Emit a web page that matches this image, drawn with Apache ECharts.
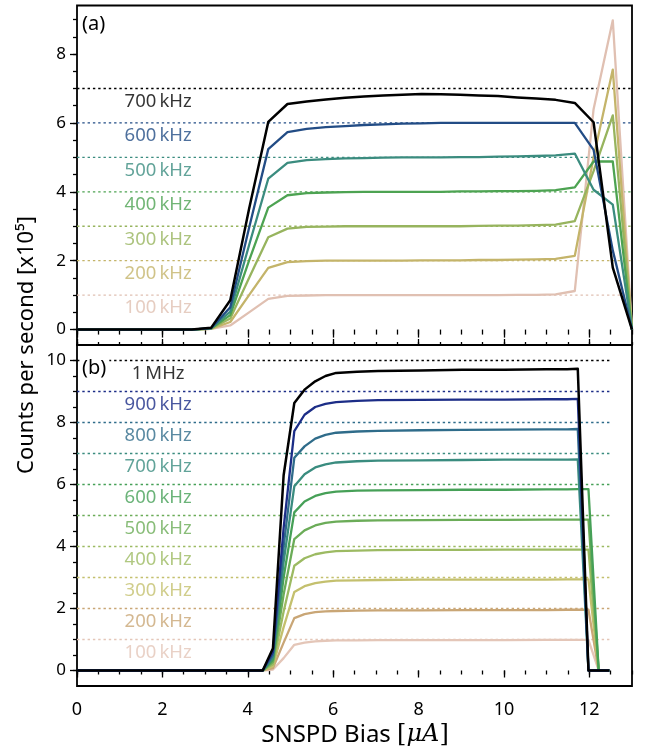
<!DOCTYPE html>
<html>
<head>
<meta charset="utf-8">
<script src="https://cdn.jsdelivr.net/npm/echarts@6/dist/echarts.min.js"></script>
<style>
html,body{margin:0;padding:0;background:#fff;}
#chart{width:646px;height:749px;}
</style>
</head>
<body>
<div id="chart"></div>
<script>
// ---------- DATA ----------
// Panel (a): bias points [uA]
const topX = [0, 2.69, 3.14, 3.59, 4.03, 4.48, 4.93, 5.38, 5.83, 6.28, 6.72, 7.17, 7.62, 8.07, 8.52, 8.97, 9.41, 9.86, 10.31, 10.76, 11.21, 11.66, 12.10, 12.55, 13.0];
const topLevels = [1, 2, 3, 4, 5, 6, 7];
const topLabels = ['100\u2009kHz', '200\u2009kHz', '300\u2009kHz', '400\u2009kHz', '500\u2009kHz', '600\u2009kHz', '700\u2009kHz'];
const top100 = [0, 0, 0.02, 0.12, 0.5, 0.89, 0.98, 0.99, 1.0, 1.0, 1.0, 1.0, 1.0, 1.0, 1.0, 1.0, 1.0, 1.0, 1.01, 1.01, 1.02, 1.12, 6.4, 8.98, 0];
const top200 = [0, 0, 0.02, 0.22, 1.0, 1.79, 1.96, 1.99, 2.0, 2.0, 2.0, 2.0, 2.0, 2.01, 2.01, 2.01, 2.02, 2.02, 2.03, 2.04, 2.05, 2.14, 5.0, 7.55, 0];
const top300 = [0, 0, 0.03, 0.32, 1.5, 2.68, 2.93, 2.98, 2.99, 3.0, 3.0, 3.0, 3.0, 3.0, 3.0, 3.0, 3.01, 3.02, 3.02, 3.03, 3.05, 3.15, 4.6, 6.22, 0];
const top400 = [0, 0, 0.03, 0.42, 2.0, 3.54, 3.9, 3.96, 3.98, 3.99, 4.0, 4.0, 4.0, 4.0, 4.0, 4.01, 4.01, 4.02, 4.02, 4.03, 4.05, 4.13, 4.88, 4.88, 0];
const top500 = [0, 0, 0.04, 0.52, 2.45, 4.38, 4.84, 4.92, 4.95, 4.97, 4.98, 4.99, 5.0, 5.0, 5.0, 5.01, 5.01, 5.02, 5.03, 5.04, 5.06, 5.11, 4.06, 3.63, 0];
const top600 = [0, 0, 0.04, 0.65, 2.95, 5.24, 5.73, 5.83, 5.88, 5.91, 5.94, 5.96, 5.98, 5.99, 6.0, 6.0, 6.0, 6.0, 6.0, 6.0, 6.0, 6.0, 5.22, 2.3, 0];
const top700 = [0, 0, 0.05, 0.85, 3.5, 6.03, 6.55, 6.62, 6.68, 6.73, 6.77, 6.8, 6.82, 6.84, 6.83, 6.82, 6.8, 6.78, 6.74, 6.71, 6.67, 6.58, 6.02, 1.8, 0];
const topColors = ['#e0c0b2', '#c4b46a', '#97b45e', '#4da352', '#3b8c7f', '#224c85', '#000000'];

// Panel (b)
const botX = [0, 4.35, 4.59, 4.84, 5.09, 5.33, 5.58, 5.82, 6.07, 6.56, 7.05, 8.04, 9.02, 10.01, 10.99, 11.48, 11.73, 11.98, 12.22, 12.47];
const botLevels = [1, 2, 3, 4, 5, 6, 7, 8, 9, 10];
const botLabels = ['100\u2009kHz', '200\u2009kHz', '300\u2009kHz', '400\u2009kHz', '500\u2009kHz', '600\u2009kHz', '700\u2009kHz', '800\u2009kHz', '900\u2009kHz', '1\u2009MHz'];
const bot100 = [0, 0, 0.03, 0.4, 0.83, 0.9, 0.94, 0.96, 0.97, 0.97, 0.98, 0.98, 0.98, 0.98, 0.99, 0.99, 0.99, 0.99, 0, 0];
const bot200 = [0, 0, 0.08, 0.9, 1.69, 1.82, 1.88, 1.91, 1.92, 1.93, 1.94, 1.94, 1.95, 1.95, 1.95, 1.96, 1.96, 1.96, 0, 0];
const bot300 = [0, 0, 0.14, 1.4, 2.53, 2.72, 2.82, 2.87, 2.9, 2.91, 2.92, 2.93, 2.93, 2.93, 2.93, 2.94, 2.94, 2.94, 0, 0];
const bot400 = [0, 0, 0.2, 1.9, 3.38, 3.62, 3.75, 3.81, 3.85, 3.87, 3.88, 3.89, 3.89, 3.9, 3.9, 3.9, 3.9, 3.9, 0, 0];
const bot500 = [0, 0, 0.28, 2.45, 4.24, 4.52, 4.68, 4.76, 4.8, 4.83, 4.84, 4.85, 4.86, 4.86, 4.87, 4.87, 4.87, 4.87, 0, 0];
const bot600 = [0, 0, 0.35, 3.0, 5.1, 5.45, 5.63, 5.72, 5.77, 5.8, 5.81, 5.82, 5.83, 5.83, 5.84, 5.84, 5.85, 5.85, 0, 0];
const bot700 = [0, 0, 0.42, 3.5, 5.94, 6.33, 6.55, 6.65, 6.71, 6.75, 6.77, 6.78, 6.79, 6.8, 6.8, 6.8, 6.81, 0, 0, 0];
const bot800 = [0, 0, 0.5, 4.0, 6.86, 7.23, 7.48, 7.6, 7.67, 7.71, 7.73, 7.75, 7.76, 7.77, 7.78, 7.78, 7.79, 0, 0, 0];
const bot900 = [0, 0, 0.6, 4.6, 7.72, 8.25, 8.5, 8.6, 8.66, 8.7, 8.72, 8.73, 8.74, 8.74, 8.75, 8.75, 8.76, 0, 0, 0];
const bot1000 = [0, 0, 0.72, 6.3, 8.63, 9.06, 9.33, 9.5, 9.6, 9.64, 9.66, 9.68, 9.7, 9.7, 9.72, 9.72, 9.73, 0, 0, 0];
const botColors = ['#e4c6b8', '#c9a676', '#c4c06e', '#9cba62', '#6bac58', '#46a057', '#3a8c7f', '#2f6c8a', '#1c2d87', '#000000'];

// Axis ticks
const xMajor = [0, 2, 4, 6, 8, 10, 12];
const xMinor = [0, 0.5, 1, 1.5, 2, 2.5, 3, 3.5, 4, 4.5, 5, 5.5, 6, 6.5, 7, 7.5, 8, 8.5, 9, 9.5, 10, 10.5, 11, 11.5, 12, 12.5, 13];
const yTopMajor = [0, 2, 4, 6, 8];
const yTopMinor = [0, 0.5, 1, 1.5, 2, 2.5, 3, 3.5, 4, 4.5, 5, 5.5, 6, 6.5, 7, 7.5, 8, 8.5, 9];
const yBotMajor = [0, 2, 4, 6, 8, 10];
const yBotMinor = [0, 0.5, 1, 1.5, 2, 2.5, 3, 3.5, 4, 4.5, 5, 5.5, 6, 6.5, 7, 7.5, 8, 8.5, 9, 9.5, 10];
const xRange = [0, 13];
const topYRange = [-0.448, 9.41];
const botYRange = [-0.5, 10.5];
const topRefEnd = 13;
const botRefEnd = 12.5;

// ---------- CHART ----------
const FONT = 'Noto Sans';
const chart = echarts.init(document.getElementById('chart'), null, {renderer: 'canvas'});

function tickAxis(base, values, len, showLabel, labelSize, margin) {
  return Object.assign({
    type: 'value',
    splitLine: {show: false},
    axisLine: {show: false},
    axisTick: {show: true, customValues: values, length: len, lineStyle: {color: '#000', width: 1.3}},
    axisLabel: showLabel
      ? {show: true, customValues: values, fontFamily: FONT, fontSize: labelSize, color: '#000', margin: margin}
      : {show: false}
  }, base);
}

const xAxes = [
  tickAxis({gridIndex: 0, position: 'bottom', min: xRange[0], max: xRange[1]}, xMajor, 8, false),
  tickAxis({gridIndex: 0, position: 'bottom', min: xRange[0], max: xRange[1]}, xMinor, 5, false),
  tickAxis({gridIndex: 1, position: 'bottom', min: xRange[0], max: xRange[1]}, xMajor, 7, true, 18, 15),
  tickAxis({gridIndex: 1, position: 'bottom', min: xRange[0], max: xRange[1]}, xMinor, 4, false),
  tickAxis({gridIndex: 1, position: 'top', min: xRange[0], max: xRange[1]}, xMajor, 6, false),
  tickAxis({gridIndex: 1, position: 'top', min: xRange[0], max: xRange[1]}, xMinor, 3, false)
];
const yAxes = [
  tickAxis({gridIndex: 0, position: 'left', min: topYRange[0], max: topYRange[1]}, yTopMajor, 7, true, 17, 11),
  tickAxis({gridIndex: 0, position: 'left', min: topYRange[0], max: topYRange[1]}, yTopMinor, 4, false),
  tickAxis({gridIndex: 1, position: 'left', min: botYRange[0], max: botYRange[1]}, yBotMajor, 7, true, 17, 11),
  tickAxis({gridIndex: 1, position: 'left', min: botYRange[0], max: botYRange[1]}, yBotMinor, 4, false)
];

const series = [];
function addPanel(xs, ys, levels, labels, colors, refEnd, xIdx, yIdx, labelOffset) {
  // dotted reference lines
  levels.forEach((lv, i) => {
    series.push({
      type: 'line', xAxisIndex: xIdx, yAxisIndex: yIdx, silent: true,
      symbol: 'none', z: 1,
      data: [[xRange[0], lv], [refEnd, lv]],
      lineStyle: {color: colors[i], width: 1.3, type: [2.4, 2.9]}
    });
  });
  // measured curves
  ys.forEach((arr, i) => {
    series.push({
      type: 'line', xAxisIndex: xIdx, yAxisIndex: yIdx,
      symbol: 'none', z: 2 + i,
      data: xs.map((x, j) => [x, arr[j]]),
      lineStyle: {color: colors[i], width: i === ys.length - 1 ? 2.5 : 2.3, join: 'round'}
    });
  });
  // text labels
  series.push({
    type: 'scatter', xAxisIndex: xIdx, yAxisIndex: yIdx, symbolSize: 0, z: 20, silent: true,
    data: levels.map((lv, i) => ({
      value: [1.9, lv - labelOffset],
      label: {color: colors[i], formatter: labels[i]}
    })),
    label: {show: true, position: 'inside', fontFamily: FONT, fontSize: 18.5}
  });
}
addPanel(topX, [top100, top200, top300, top400, top500, top600, top700], topLevels, topLabels, topColors, topRefEnd, 0, 0, 0.38);
addPanel(botX, [bot100, bot200, bot300, bot400, bot500, bot600, bot700, bot800, bot900, bot1000], botLevels, botLabels, botColors, botRefEnd, 2, 2, 0.44);

const option = {
  animation: false,
  backgroundColor: '#fff',
  grid: [
    {left: 77, top: 5.5, width: 555, height: 339.5, show: true, borderColor: '#000', borderWidth: 1.8, backgroundColor: 'transparent'},
    {left: 77, top: 345, width: 555, height: 341, show: true, borderColor: '#000', borderWidth: 1.8, backgroundColor: 'transparent'}
  ],
  xAxis: xAxes,
  yAxis: yAxes,
  series: series,
  graphic: [
    {type: 'text', x: 82, y: 24, z: 100,
     style: {text: '(a)', fontFamily: FONT, fontSize: 20, fill: '#000', align: 'left', verticalAlign: 'middle', textAlign: 'left', textVerticalAlign: 'middle', backgroundColor: '#fff', padding: [0, 2, 0, 0]}},
    {type: 'text', x: 80, y: 368, z: 100,
     style: {text: '(b)', fontFamily: FONT, fontSize: 20, fill: '#000', align: 'left', verticalAlign: 'middle', textAlign: 'left', textVerticalAlign: 'middle', backgroundColor: '#fff', padding: [0, 3, 0, 2]}},
    {type: 'text', x: 27, y: 345, rotation: Math.PI / 2, z: 100,
     style: {text: 'Counts per second [x10\u2075]', fontFamily: FONT, fontSize: 22, fill: '#000', align: 'center', verticalAlign: 'middle', textAlign: 'center', textVerticalAlign: 'middle'}},
    {type: 'text', x: 355, y: 735, z: 100,
     style: {
       text: '{a|SNSPD Bias }{b|[}{c|\u03BCA}{b|]}',
       align: 'center', verticalAlign: 'middle', textAlign: 'center', textVerticalAlign: 'middle',
       rich: {
         a: {fontFamily: FONT, fontSize: 24, fill: '#000', color: '#000'},
         b: {fontFamily: 'DejaVu Serif', fontSize: 24, fill: '#000', color: '#000'},
         c: {fontFamily: 'DejaVu Serif', fontStyle: 'italic', fontSize: 24, fill: '#000', color: '#000'}
       }
     }}
  ]
};
chart.setOption(option);
</script>
</body>
</html>
